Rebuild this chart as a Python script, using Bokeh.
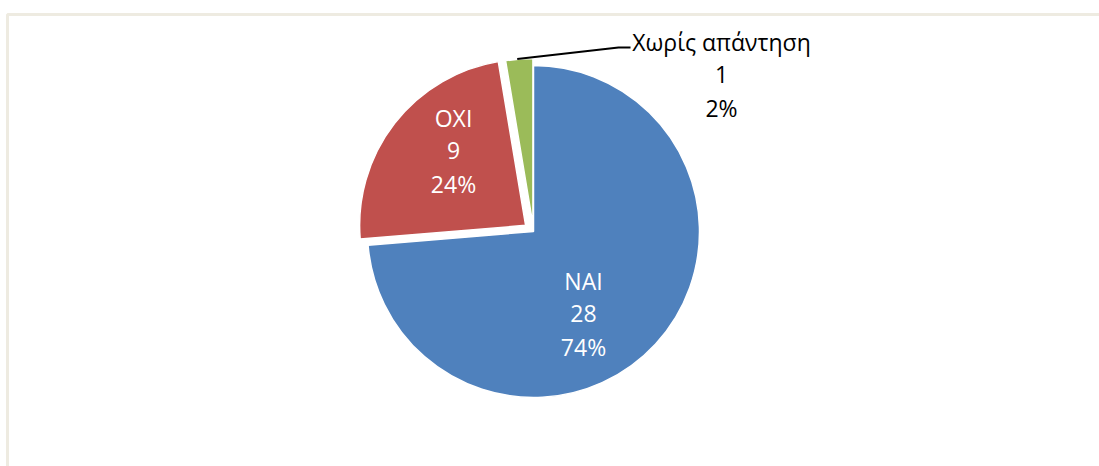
import math
from bokeh.plotting import figure
from bokeh.models import ColumnDataSource
from bokeh.core.properties import value
from bokeh.embed import file_html
from bokeh.resources import INLINE

categories = ["NAI", "OXI", "Χωρίς απάντηση"]
counts = [28, 9, 1]
percent_labels = ["74%", "24%", "2%"]
colors = ["#4F81BD", "#C0504D", "#9BBB59"]
explode = [0, 10, 7]
text_colors = ["white", "white", "black"]
# label offsets from the pie centre, in pixels
label_dx = [50, -80, 188]
label_dy = [-82, 81, 157]

W, H = 1099, 466
cx, cy, R = 533, 235, 166

total = sum(counts)
starts, ends, xs, ys = [], [], [], []
cum = 0.0
for c, e in zip(counts, explode):
    a0 = math.pi / 2 - 2 * math.pi * cum / total
    cum += c
    a1 = math.pi / 2 - 2 * math.pi * cum / total
    mid = (a0 + a1) / 2
    starts.append(a1)
    ends.append(a0)
    xs.append(cx + e * math.cos(mid))
    ys.append(cy + e * math.sin(mid))

src = ColumnDataSource(dict(x=xs, y=ys, start=starts, end=ends, color=colors))

p = figure(width=W, height=H, x_range=(0, W), y_range=(0, H),
           output_backend="svg", toolbar_location=None, min_border=0)
p.axis.visible = False
p.grid.visible = False
p.outline_line_color = None
p.background_fill_color = "white"

# chart frame (cropped at right/bottom)
p.line(x=[7, 7, W + 5], y=[-5, H - 14, H - 14], line_color="#EEEBE1", line_width=3)

p.wedge(x="x", y="y", radius=R, start_angle="start", end_angle="end",
        direction="anticlock", fill_color="color", line_color="white",
        line_width=1.5, source=src)

# leader line for the small slice
gmid = (starts[2] + ends[2]) / 2
lx0 = xs[2] + R * math.cos(gmid) - 2
ly0 = ys[2] + R * math.sin(gmid)
lab_x = cx + label_dx[2]
lab_y = cy + label_dy[2]
p.line(x=[lx0, lab_x - 103, lab_x - 91], y=[ly0, lab_y + 27, lab_y + 27],
       line_color="black", line_width=2)

line_gap = 33
for i, cat in enumerate(categories):
    lx = cx + label_dx[i]
    ly = cy + label_dy[i]
    lines = [cat, str(counts[i]), percent_labels[i]]
    p.text(x=[lx] * 3, y=[ly + line_gap, ly, ly - line_gap], text=lines,
           text_align="center", text_baseline="middle",
           text_font=value("Open Sans"), text_font_size="23px",
           text_color=text_colors[i])

open("out.html", "w").write(file_html(p, INLINE))
